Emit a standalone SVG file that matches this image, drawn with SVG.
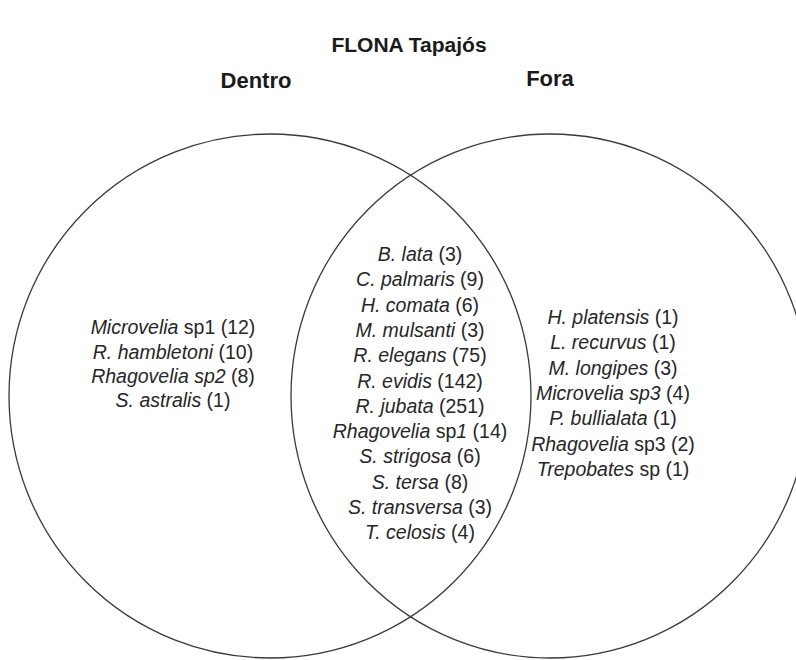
<svg xmlns="http://www.w3.org/2000/svg" width="796" height="660" viewBox="0 0 796 660">
<style>
.c{fill:none;stroke:#3a3a3a;stroke-width:1.3}
.h{font-family:"Liberation Sans",Arial,sans-serif;font-weight:bold;fill:#1a1a1a;text-anchor:middle}
.t{font-family:"Liberation Sans",Arial,sans-serif;font-size:19.5px;fill:#262626;text-anchor:middle}
.i{font-style:italic}
</style>
<rect width="796" height="660" fill="#fff"/>
<g id="title"><text class="h" x="409" y="52" font-size="21">FLONA Tapajós</text></g>
<g id="dentro">
<ellipse class="c" cx="270" cy="396" rx="261" ry="262"/>
<text class="h" x="256" y="88" font-size="22">Dentro</text>
<g class="t">
<text x="173" y="334"><tspan class="i">Microvelia</tspan> sp1 (12)</text>
<text x="173" y="358.5"><tspan class="i">R. hambletoni</tspan> (10)</text>
<text x="173" y="382.5"><tspan class="i">Rhagovelia sp2</tspan> (8)</text>
<text x="173" y="406.5"><tspan class="i">S. astralis</tspan> (1)</text>
</g>
</g>
<g id="fora">
<ellipse class="c" cx="550" cy="396" rx="259" ry="262"/>
<text class="h" x="550" y="86" font-size="22">Fora</text>
<g class="t">
<text x="613" y="324"><tspan class="i">H. platensis</tspan> (1)</text>
<text x="613" y="349.3"><tspan class="i">L. recurvus</tspan> (1)</text>
<text x="613" y="374.6"><tspan class="i">M. longipes</tspan> (3)</text>
<text x="613" y="399.9"><tspan class="i">Microvelia sp3</tspan> (4)</text>
<text x="613" y="425.2"><tspan class="i">P. bullialata</tspan> (1)</text>
<text x="613" y="450.5"><tspan class="i">Rhagovelia</tspan> sp3 (2)</text>
<text x="613" y="475.8"><tspan class="i">Trepobates</tspan> sp (1)</text>
</g>
</g>
<g id="intersection" class="t">
<text x="420" y="261"><tspan class="i">B. lata</tspan> (3)</text>
<text x="420" y="286.3"><tspan class="i">C. palmaris</tspan> (9)</text>
<text x="420" y="311.6"><tspan class="i">H. comata</tspan> (6)</text>
<text x="420" y="336.9"><tspan class="i">M. mulsanti</tspan> (3)</text>
<text x="420" y="362.2"><tspan class="i">R. elegans</tspan> (75)</text>
<text x="420" y="387.5"><tspan class="i">R. evidis</tspan> (142)</text>
<text x="420" y="412.8"><tspan class="i">R. jubata</tspan> (251)</text>
<text x="420" y="438.1"><tspan class="i">Rhagovelia</tspan> sp<tspan class="i">1</tspan> (14)</text>
<text x="420" y="463.4"><tspan class="i">S. strigosa</tspan> (6)</text>
<text x="420" y="488.7"><tspan class="i">S. tersa</tspan> (8)</text>
<text x="420" y="514"><tspan class="i">S. transversa</tspan> (3)</text>
<text x="420" y="539.3"><tspan class="i">T. celosis</tspan> (4)</text>
</g>
</svg>
